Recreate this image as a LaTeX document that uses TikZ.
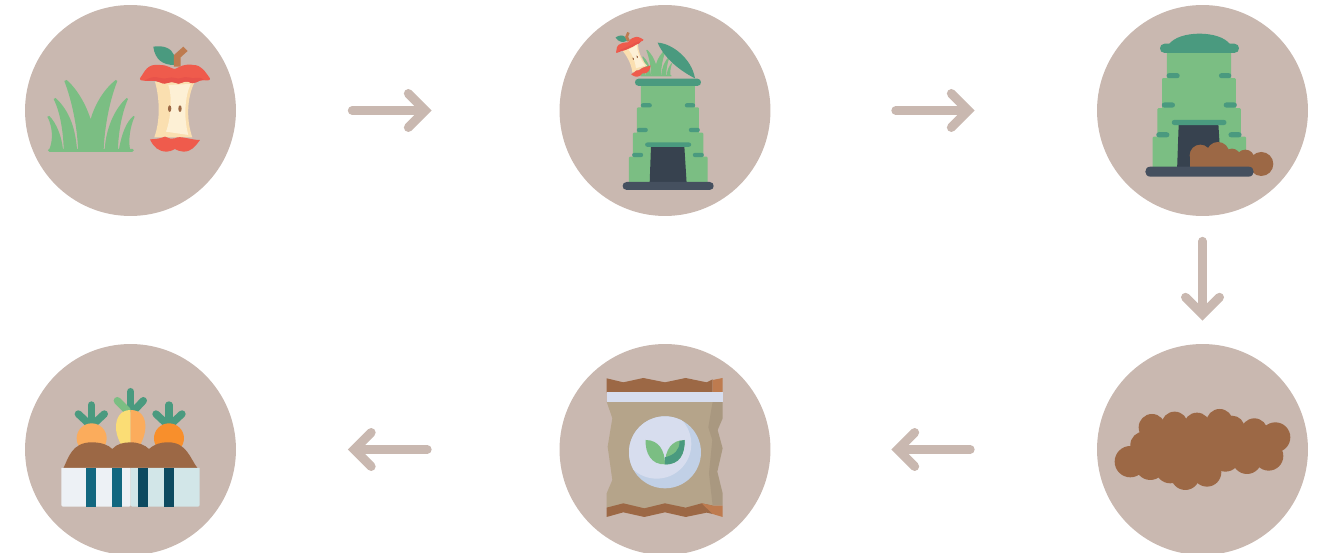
\documentclass[tikz,border=0pt]{standalone}
\usepackage{tikz}
\usetikzlibrary{arrows.meta}

\definecolor{discback}{HTML}{C9B8B0}
\definecolor{leafgreen}{HTML}{7BBE83}
\definecolor{deepgreen}{HTML}{4A9A7F}
\definecolor{applered}{HTML}{EF5B4C}
\definecolor{applelow}{HTML}{E8524A}
\definecolor{coredark}{HTML}{FADFB0}
\definecolor{corelight}{HTML}{FDF0D5}
\definecolor{soilbrown}{HTML}{9C6845}
\definecolor{stemorange}{HTML}{BE7B4F}
\definecolor{doorslate}{HTML}{37424F}
\definecolor{baseslate}{HTML}{45505F}
\definecolor{sackbody}{HTML}{B5A48A}
\definecolor{sackshade}{HTML}{A99880}
\definecolor{labelpale}{HTML}{D7DDEE}
\definecolor{labelblue}{HTML}{C1D0E6}
\definecolor{boxleft}{HTML}{EDF1F5}
\definecolor{boxright}{HTML}{D2E6E8}
\definecolor{stripelight}{HTML}{12677F}
\definecolor{stripedark}{HTML}{0D4A60}
\definecolor{carrotmid}{HTML}{FBAC5C}
\definecolor{carrotpale}{HTML}{FBDD75}
\definecolor{carrotdeep}{HTML}{F88F2C}

% colour, left cap, right cap, middle y, half height
\newcommand{\pillbar}[5]{%
  \fill[#1] (#2,{#4-#5}) -- (#3,{#4-#5})
    .. controls ({#3+1.333*#5},{#4-#5}) and ({#3+1.333*#5},{#4+#5}) .. (#3,{#4+#5})
    -- (#2,{#4+#5})
    .. controls ({#2-1.333*#5},{#4+#5}) and ({#2-1.333*#5},{#4-#5}) .. (#2,{#4-#5});
}

\newcommand{\grassicon}{%
  \begin{scope}[shift={(-212,-450)}, leafgreen]
    \fill (88,448) .. controls (100,420) and (98,380) .. (82,350) -- (88,348)
      .. controls (110,370) and (125,410) .. (129,448) -- cycle;
    \fill (131,448) .. controls (130,400) and (122,340) .. (101,297) -- (107,294)
      .. controls (140,325) and (165,370) .. (171,448) -- cycle;
    \fill (174,448) .. controls (172,380) and (155,300) .. (133,243) -- (140,240)
      .. controls (175,270) and (200,320) .. (212,358)
      .. controls (225,310) and (255,265) .. (287,240) -- (292,243)
      .. controls (270,300) and (255,370) .. (251,448) -- cycle;
    \fill (254,448) .. controls (258,390) and (280,330) .. (320,294) -- (324,297)
      .. controls (305,340) and (295,400) .. (294,448) -- cycle;
    \fill (297,448) .. controls (305,400) and (320,365) .. (340,348) -- (344,350)
      .. controls (330,380) and (325,420) .. (330,448) -- cycle;
    \pillbar{leafgreen}{88}{337}{451}{4.5}
  \end{scope}
}

\newcommand{\appleicon}{%
  \begin{scope}[shift={(-465,-300)}]
    % leaf and stem
    \fill[deepgreen] (400,140) .. controls (430,135) and (455,145) .. (462,165)
      -- (462,195) .. controls (430,195) and (405,180) .. (400,140) -- cycle;
    \fill[stemorange] (462,200) -- (462,165) -- (490,140) -- (503,153)
      -- (482,172) -- (482,200) -- cycle;
    % core
    \fill[coredark] (405,245) .. controls (415,280) and (425,350) .. (403,412)
      -- (517,412) .. controls (495,350) and (505,280) .. (525,245) -- cycle;
    \fill[corelight] (445,255) .. controls (458,290) and (452,360) .. (438,395)
      -- (505,405) .. controls (490,350) and (495,290) .. (512,252) -- cycle;
    \fill[soilbrown] (449,326) ellipse (5 and 10) (480,326) ellipse (5 and 10);
    % top and bottom of the apple
    \fill[applered] (360,235) .. controls (375,215) and (380,190) .. (420,195)
      .. controls (445,195) and (455,207) .. (465,207)
      .. controls (480,200) and (495,190) .. (520,195)
      .. controls (545,195) and (555,215) .. (570,235)
      .. controls (572,242) and (560,243) .. (550,240)
      .. controls (535,238) and (525,258) .. (505,245)
      .. controls (490,240) and (480,258) .. (465,248)
      .. controls (450,240) and (440,258) .. (420,247)
      .. controls (400,238) and (385,245) .. (370,242)
      .. controls (362,242) and (358,240) .. (360,235) -- cycle;
    \fill[applelow] (375,241) .. controls (390,244) and (405,238) .. (420,247)
      .. controls (440,258) and (450,240) .. (465,248)
      .. controls (480,258) and (490,240) .. (505,245)
      .. controls (525,258) and (535,238) .. (552,240)
      .. controls (535,225) and (525,240) .. (505,232)
      .. controls (490,228) and (480,240) .. (465,234)
      .. controls (450,228) and (440,240) .. (420,234)
      .. controls (405,228) and (390,232) .. (375,241) -- cycle;
    \fill[applered] (390,418) .. controls (410,418) and (420,415) .. (435,410)
      .. controls (450,415) and (455,420) .. (465,415)
      .. controls (480,405) and (510,420) .. (540,420)
      .. controls (525,440) and (515,455) .. (490,455)
      .. controls (480,455) and (470,450) .. (465,447)
      .. controls (455,452) and (450,455) .. (440,455)
      .. controls (415,455) and (400,440) .. (390,418) -- cycle;
  \end{scope}
}

\newcommand{\towericon}{%
  \begin{scope}[shift={(-340,-558)}]
    \fill[leafgreen, rounded corners=.6pt] (258,250) rectangle (420,330);
    \fill[leafgreen, rounded corners=.6pt] (246,322) rectangle (432,405);
    \fill[leafgreen, rounded corners=.6pt] (234,398) rectangle (445,480);
    \fill[leafgreen, rounded corners=.6pt] (222,470) rectangle (458,550);
    \pillbar{deepgreen}{264}{284}{316}{6.5}
    \pillbar{deepgreen}{396}{414}{316}{6.5}
    \pillbar{deepgreen}{252}{272}{390}{6.5}
    \pillbar{deepgreen}{408}{428}{390}{6.5}
    \pillbar{deepgreen}{238}{258}{465}{6.5}
    \pillbar{deepgreen}{420}{440}{465}{6.5}
    \fill[doorslate] (288,438) -- (388,438) -- (395,550) -- (284,550) -- cycle;
    \pillbar{deepgreen}{277}{402}{434}{6.5}
  \end{scope}
}

\tikzset{
  stepcircle/.style={circle, fill=discback, minimum size=4.22cm, inner sep=0pt},
  flow/.style={draw=discback, line width=.18cm, line cap=round,
    -{Straight Barb[line cap=round, line join=miter, length=.34cm, width=.68cm]}},
  sprig/.style={line width=.147cm, line cap=round}
}

\begin{document}
\begin{tikzpicture}[x=.02cm, y=-.02cm]
\useasboundingbox (0,0) rectangle (1323,553);

% the six discs
\node[stepcircle] (waste)   at (130.5,110.5) {};
\node[stepcircle] (loading) at (665,110.5)   {};
\node[stepcircle] (turning) at (1202.5,110.5) {};
\node[stepcircle] (compost) at (1202.5,449.5) {};
\node[stepcircle] (sack)    at (665,449.5)   {};
\node[stepcircle] (garden)  at (130.5,449.5) {};

% arrows between the discs
\draw[flow, shorten <=2.32cm, shorten >=2.55cm] (waste) -- (loading);
\draw[flow, shorten <=2.50cm, shorten >=2.44cm] (loading) -- (turning);
\draw[flow, shorten <=.50cm, shorten >=.46cm] (turning) -- (compost);
\draw[flow, shorten <=2.53cm, shorten >=2.41cm] (compost) -- (sack);
\draw[flow, shorten <=2.64cm, shorten >=2.23cm] (sack) -- (garden);

% grass and apple core
\begin{scope}[shift={(20,0)}, scale=.3333]
  \begin{scope}[shift={(212,450)}] \grassicon \end{scope}
  \begin{scope}[shift={(465,300)}] \appleicon \end{scope}
\end{scope}

% bin with open lid
\begin{scope}[shift={(555,0)}, scale=.3333]
  \begin{scope}[shift={(303,227)}, scale=.37] \grassicon \end{scope}
  \begin{scope}[shift={(236,163)}, scale=.43, rotate=25] \appleicon \end{scope}
  \fill[deepgreen] (308,128) .. controls (350,130) and (410,175) .. (420,235)
    .. controls (370,210) and (325,170) .. (308,128) -- cycle;
  \begin{scope}[shift={(340,558)}] \towericon \end{scope}
  \pillbar{deepgreen}{251}{427}{247}{11}
  \pillbar{baseslate}{215}{464}{558}{12}
\end{scope}

% bin with closed lid and compost coming out
\begin{scope}[shift={(1092,0)}, scale=.3333]
  \begin{scope}[shift={(322,515)}, scale=1.19] \towericon \end{scope}
  \fill[deepgreen] (230,134) .. controls (260,90) and (385,90) .. (415,134) -- cycle;
  \pillbar{deepgreen}{218}{427}{145}{14}
  \foreach \cx/\cy/\cr in {325/466/32, 378/460/34, 420/472/26, 460/476/27, 508/492/36}
    \fill[soilbrown] (\cx,\cy) circle[radius=\cr*.02cm];
  \fill[soilbrown] (293,465) rectangle (500,505);
  \pillbar{baseslate}{175}{470}{515}{15}
\end{scope}

% compost heap
\begin{scope}[shift={(1092,340)}, scale=.3333]
  \foreach \cx/\cy/\cr in {115/365/47, 175/375/45, 180/262/40, 248/255/40, 315/258/40,
      383/247/40, 420/265/38, 487/275/40, 550/292/45, 530/348/44, 465/358/44,
      400/350/45, 345/397/43, 280/407/43, 235/385/45, 155/315/40}
    \fill[soilbrown] (\cx,\cy) circle[radius=\cr*.02cm];
  \fill[soilbrown] (160,260) -- (540,280) -- (530,350) -- (280,400) -- (120,360) -- cycle;
\end{scope}

% bag of compost
\begin{scope}[shift={(555,340)}, scale=.3333]
  \fill[sackbody] (155,185) -- (172,235) -- (158,320) -- (172,420) -- (155,460)
    -- (155,505) -- (475,505) -- (475,185) -- cycle;
  \fill[sackshade] (473,185) -- (460,262) -- (472,300) -- (462,400) -- (473,497)
    -- (503,497) -- (503,460) -- (487,395) -- (503,325) -- (488,270) -- (503,235)
    -- (503,185) -- cycle;
  \fill[soilbrown] (155,115) -- (205,127) -- (265,114) -- (330,127) -- (392,114)
    -- (455,127) -- (473,118) -- (473,157) -- (155,157) -- cycle;
  \fill[stemorange] (473,120) -- (503,114) -- (503,157) -- (473,157) -- cycle;
  \fill[labelpale] (155,157) rectangle (503,186);
  \fill[soilbrown] (155,503) -- (205,490) -- (268,505) -- (330,490) -- (392,503)
    -- (440,490) -- (473,497) -- (473,522) -- (455,518) -- (392,531) -- (330,517)
    -- (268,531) -- (205,517) -- (155,531) -- cycle;
  \fill[stemorange] (440,490) -- (473,497) -- (503,497) -- (503,531) -- (473,522) -- cycle;
  \fill[labelblue] (330,337) circle[radius=108*.02cm];
  \begin{scope}
    \clip (330,337) circle[radius=108*.02cm];
    \fill[labelpale] (305,312) circle[radius=104*.02cm];
  \end{scope}
  \fill[leafgreen] (272,300) .. controls (310,300) and (330,330) .. (330,373)
    .. controls (290,375) and (270,340) .. (272,300) -- cycle;
  \fill[leafgreen] (389,300) .. controls (350,300) and (330,330) .. (330,373)
    .. controls (375,375) and (390,340) .. (389,300) -- cycle;
  \fill[deepgreen] (389,300) -- (373,304) .. controls (375,330) and (358,345) .. (330,352)
    -- (330,373) .. controls (375,375) and (390,340) .. (389,300) -- cycle;
\end{scope}

% carrots in the planter
\begin{scope}[shift={(20,340)}, scale=.3333]
  \foreach \sx in {0,233} {
    \draw[sprig, deepgreen] ({214+\sx},195) -- ({214+\sx},245);
    \draw[sprig, deepgreen] ({175+\sx},222) -- ({205+\sx},250);
    \draw[sprig, deepgreen] ({253+\sx},222) -- ({223+\sx},250);
  }
  \draw[sprig, deepgreen] (332,155) -- (332,205);
  \draw[sprig, leafgreen] (292,182) -- (322,212);
  \draw[sprig, deepgreen] (370,182) -- (342,212);
  \fill[carrotmid] (215,295) circle[radius=45*.02cm];
  \fill[carrotdeep] (447,295) circle[radius=45*.02cm];
  \fill[carrotpale] (332,210) .. controls (300,210) and (288,235) .. (288,262)
    .. controls (288,290) and (305,320) .. (320,340) -- (332,340) -- cycle;
  \fill[carrotmid] (332,210) .. controls (365,210) and (378,235) .. (376,265)
    .. controls (375,290) and (360,320) .. (345,340) -- (332,340) -- cycle;
  \fill[soilbrown] (130,385) .. controls (145,355) and (155,307) .. (215,307)
    .. controls (245,307) and (265,315) .. (277,327)
    .. controls (290,312) and (310,307) .. (332,307)
    .. controls (355,307) and (375,315) .. (387,327)
    .. controls (405,312) and (420,307) .. (445,307)
    .. controls (500,307) and (510,355) .. (533,385) -- cycle;
  \fill[boxleft] (332,384) -- (124,384) {[rounded corners=.8pt] -- (124,500) -- (332,500)} -- cycle;
  \fill[boxright] (332,384) -- (539,384) {[rounded corners=.8pt] -- (539,500) -- (332,500)} -- cycle;
  \fill[stripelight] (199,384) rectangle (227,500);
  \fill[stripelight] (277,384) rectangle (305,500);
  \fill[stripedark] (355,384) rectangle (383,500);
  \fill[stripedark] (433,384) rectangle (461,500);
\end{scope}

\end{tikzpicture}
\end{document}
